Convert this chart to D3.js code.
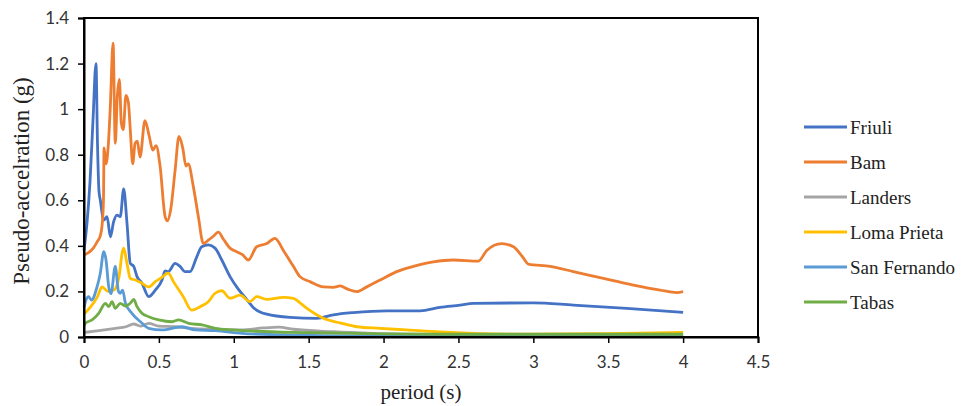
<!DOCTYPE html>
<html>
<head>
<meta charset="utf-8">
<script src="https://cdn.jsdelivr.net/npm/d3@7"></script>
<style>
  body { margin: 0; background: #fff; }
  svg { display: block; }
</style>
</head>
<body>
<div id="chart"></div>
<script>
// period (s) / pseudo-acceleration (g) pairs
const friuli = [[0,0.38],[0.02,0.5],[0.04,0.68],[0.06,0.95],[0.08,1.2],[0.09,0.85],[0.1,0.64],[0.109,0.6],[0.132,0.513],[0.154,0.528],[0.176,0.44],[0.198,0.506],[0.22,0.535],[0.242,0.528],[0.265,0.65],[0.287,0.5],[0.309,0.323],[0.332,0.31],[0.354,0.265],[0.387,0.236],[0.432,0.177],[0.476,0.206],[0.521,0.25],[0.541,0.29],[0.563,0.287],[0.608,0.323],[0.641,0.31],[0.674,0.287],[0.708,0.287],[0.753,0.352],[0.786,0.396],[0.83,0.404],[0.875,0.39],[0.92,0.338],[0.975,0.265],[1.03,0.21],[1.086,0.165],[1.13,0.13],[1.22,0.1],[1.376,0.086],[1.554,0.082],[1.665,0.097],[1.798,0.107],[2.021,0.115],[2.244,0.115],[2.377,0.13],[2.511,0.14],[2.6,0.148],[3.0,0.15],[3.268,0.14],[3.624,0.126],[4.0,0.108]];
const bam = [[0,0.36],[0.03,0.37],[0.062,0.39],[0.09,0.42],[0.107,0.44],[0.122,0.5],[0.13,0.6],[0.134,0.83],[0.147,0.76],[0.162,0.84],[0.175,1.0],[0.194,1.29],[0.209,0.85],[0.222,1.05],[0.236,1.13],[0.249,0.94],[0.262,0.91],[0.28,1.06],[0.296,1.03],[0.31,0.9],[0.325,0.76],[0.341,0.85],[0.356,0.86],[0.374,0.79],[0.407,0.95],[0.436,0.88],[0.459,0.82],[0.481,0.84],[0.508,0.75],[0.541,0.53],[0.556,0.51],[0.579,0.56],[0.608,0.73],[0.634,0.88],[0.659,0.83],[0.681,0.75],[0.696,0.76],[0.73,0.66],[0.763,0.53],[0.797,0.41],[0.83,0.425],[0.86,0.44],[0.897,0.46],[0.93,0.43],[0.975,0.39],[1.02,0.374],[1.06,0.36],[1.097,0.338],[1.153,0.396],[1.22,0.41],[1.275,0.433],[1.331,0.38],[1.398,0.31],[1.442,0.265],[1.509,0.243],[1.598,0.22],[1.665,0.218],[1.71,0.224],[1.76,0.21],[1.821,0.199],[1.888,0.22],[1.977,0.25],[2.088,0.287],[2.199,0.31],[2.333,0.33],[2.466,0.338],[2.633,0.333],[2.689,0.38],[2.789,0.41],[2.867,0.396],[2.93,0.35],[2.967,0.32],[3.112,0.31],[3.267,0.287],[3.468,0.257],[3.668,0.228],[3.846,0.206],[3.958,0.195],[4.0,0.199]];
const landers = [[0,0.02],[0.1,0.028],[0.21,0.038],[0.28,0.045],[0.332,0.057],[0.376,0.048],[0.432,0.06],[0.499,0.048],[0.61,0.045],[0.72,0.038],[0.877,0.034],[1.05,0.031],[1.2,0.04],[1.3,0.043],[1.398,0.034],[1.665,0.023],[1.93,0.016],[2.5,0.01],[3.0,0.008],[3.5,0.006],[4.0,0.005]];
const lomaPrieta = [[0,0.1],[0.045,0.133],[0.09,0.177],[0.12,0.22],[0.16,0.2],[0.2,0.206],[0.234,0.265],[0.256,0.374],[0.265,0.39],[0.287,0.323],[0.309,0.257],[0.343,0.25],[0.387,0.236],[0.432,0.22],[0.476,0.243],[0.51,0.257],[0.563,0.28],[0.597,0.243],[0.663,0.177],[0.719,0.118],[0.775,0.133],[0.83,0.155],[0.875,0.192],[0.92,0.203],[0.975,0.17],[1.042,0.184],[1.108,0.155],[1.153,0.177],[1.22,0.165],[1.331,0.174],[1.398,0.17],[1.442,0.15],[1.5,0.12],[1.598,0.082],[1.71,0.062],[1.821,0.045],[1.977,0.038],[2.155,0.031],[2.377,0.022],[2.6,0.016],[3.0,0.012],[3.5,0.015],[4.0,0.02]];
const sanFernando = [[0,0.13],[0.01,0.155],[0.03,0.177],[0.05,0.162],[0.087,0.22],[0.109,0.28],[0.132,0.375],[0.147,0.338],[0.165,0.22],[0.18,0.19],[0.209,0.31],[0.23,0.2],[0.242,0.192],[0.258,0.206],[0.276,0.15],[0.32,0.104],[0.377,0.067],[0.432,0.038],[0.52,0.031],[0.654,0.045],[0.743,0.031],[0.877,0.028],[1.055,0.016],[1.3,0.01],[1.6,0.006],[2.0,0.004],[3.0,0.003],[4.0,0.003]];
const tabas = [[0,0.05],[0.009,0.06],[0.054,0.075],[0.098,0.104],[0.143,0.148],[0.165,0.133],[0.187,0.155],[0.209,0.126],[0.242,0.148],[0.276,0.136],[0.309,0.148],[0.332,0.165],[0.354,0.133],[0.387,0.104],[0.432,0.089],[0.499,0.075],[0.588,0.067],[0.632,0.075],[0.699,0.06],[0.788,0.053],[0.877,0.038],[0.988,0.031],[1.055,0.028],[1.5,0.019],[2.0,0.014],[2.5,0.012],[3.0,0.012],[4.0,0.012]];

const seriesNames = ["Friuli", "Bam", "Landers", "Loma Prieta", "San Fernando", "Tabas"];
const seriesData = [friuli, bam, landers, lomaPrieta, sanFernando, tabas];
const xTicks = [0, 0.5, 1, 1.5, 2, 2.5, 3, 3.5, 4, 4.5];
const yTicks = [0, 0.2, 0.4, 0.6, 0.8, 1, 1.2, 1.4];

const width = 963, height = 406;
const margin = {top: 18, right: 205, bottom: 69, left: 84};
const colors = ["#4472C4", "#ED7D31", "#A5A5A5", "#FFC000", "#5B9BD5", "#70AD47"];

const svg = d3.select("#chart").append("svg")
    .attr("width", width)
    .attr("height", height);

const x = d3.scaleLinear().domain([0, 4.5]).range([margin.left, width - margin.right]);
const y = d3.scaleLinear().domain([0, 1.4]).range([height - margin.bottom, margin.top]);

// lines
const line = d3.line()
    .x(d => x(d[0]))
    .y(d => y(d[1]))
    .curve(d3.curveMonotoneX);

svg.append("g")
    .selectAll("path")
    .data(seriesData)
    .join("path")
    .attr("d", line)
    .attr("fill", "none")
    .attr("stroke", (d, i) => colors[i])
    .attr("stroke-width", 2.8)
    .attr("stroke-linejoin", "round");

// frame
svg.append("rect")
    .attr("x", x(0))
    .attr("y", y(1.4))
    .attr("width", x(4.5) - x(0))
    .attr("height", y(0) - y(1.4))
    .attr("fill", "none")
    .attr("stroke", "#000")
    .attr("stroke-width", 2);

// axes
const xAxis = svg.append("g")
    .attr("transform", `translate(0,${y(0)})`)
    .call(d3.axisBottom(x).tickValues(xTicks).tickSize(6).tickPadding(13).tickFormat(d3.format("")));
const yAxis = svg.append("g")
    .attr("transform", `translate(${x(0)},0)`)
    .call(d3.axisLeft(y).tickValues(yTicks).tickSize(6).tickPadding(9).tickFormat(d3.format("")));

[xAxis, yAxis].forEach(g => {
    g.select(".domain").attr("stroke", "#000").attr("stroke-width", 2);
    g.selectAll(".tick line").attr("stroke", "#000").attr("stroke-width", 1.5);
    g.selectAll(".tick text")
        .attr("fill", "#333")
        .style("font-family", "Lato, 'Liberation Sans', sans-serif")
        .style("font-size", "17px");
});

// axis titles
svg.append("text")
    .attr("x", (x(0) + x(4.5)) / 2)
    .attr("y", 399)
    .attr("text-anchor", "middle")
    .style("font-family", "'Liberation Serif', serif")
    .style("font-size", "21px")
    .attr("fill", "#222")
    .text("period (s)");

svg.append("text")
    .attr("transform", `translate(29,181) rotate(-90)`)
    .attr("text-anchor", "middle")
    .style("font-family", "'Liberation Serif', serif")
    .style("font-size", "23px")
    .attr("fill", "#222")
    .text("Pseudo-accelration (g)");

// legend
const legend = svg.append("g")
    .selectAll("g")
    .data(seriesNames)
    .join("g")
    .attr("transform", (d, i) => `translate(804,${127 + i * 35})`);

legend.append("line")
    .attr("x1", 0).attr("x2", 43)
    .attr("stroke", (d, i) => colors[i])
    .attr("stroke-width", 2.8);

legend.append("text")
    .attr("x", 46)
    .attr("dy", "0.35em")
    .style("font-family", "'Liberation Serif', serif")
    .style("font-size", "19px")
    .attr("fill", "#222")
    .text(d => d);
</script>
</body>
</html>
